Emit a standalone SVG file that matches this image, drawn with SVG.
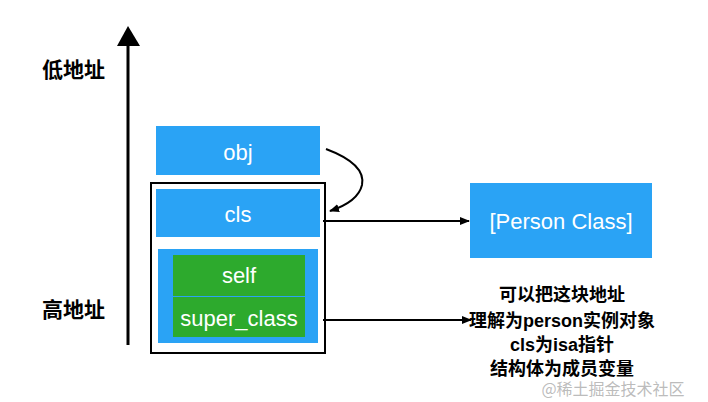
<svg xmlns="http://www.w3.org/2000/svg" width="708" height="402" viewBox="0 0 708 402">
<style>
.blue{fill:#2AA3F5}
.green{fill:#2DAA2D}
.lbl{font-family:"Liberation Sans","Noto Sans CJK SC",sans-serif;font-size:22px;fill:#fff;text-anchor:middle}
.cn{font-family:"Noto Sans CJK SC",sans-serif;font-weight:bold;fill:#000}
.note{font-family:"Liberation Sans","Noto Sans CJK SC",sans-serif;font-weight:bold;font-size:18px;fill:#000;text-anchor:middle}
.ln{stroke:#000;stroke-width:2;fill:none}
</style>
<defs>
<marker id="ah" markerWidth="10" markerHeight="10" refX="9" refY="5" orient="auto" markerUnits="userSpaceOnUse">
<path d="M0,1 L10,5 L0,9 Z" fill="#000"/>
</marker>
</defs>
<rect width="708" height="402" fill="#fff"/>
<g id="axis">
<line x1="128" y1="345" x2="128" y2="42" stroke="#000" stroke-width="3"/>
<path d="M117,46 L128,26 L140,46 Z" fill="#000"/>
<text class="cn" x="42" y="77" font-size="21">低地址</text>
<text class="cn" x="42" y="317" font-size="21">高地址</text>
</g>
<g id="obj">
<rect class="blue" x="156" y="126" width="164" height="49"/>
<text class="lbl" x="238" y="160">obj</text>
</g>
<g id="struct">
<rect x="151" y="183" width="174" height="170" fill="none" stroke="#000" stroke-width="2"/>
</g>
<g id="cls">
<rect class="blue" x="156" y="189" width="164" height="48"/>
<text class="lbl" x="238" y="222">cls</text>
</g>
<g id="members">
<rect class="blue" x="158" y="249" width="160" height="94"/>
</g>
<g id="self">
<rect class="green" x="173" y="255" width="132" height="41"/>
<text class="lbl" x="239" y="283">self</text>
</g>
<g id="super_class">
<rect class="green" x="173" y="297" width="132" height="40"/>
<text class="lbl" x="239" y="326">super_class</text>
</g>
<g id="person">
<rect class="blue" x="470" y="183" width="182" height="75"/>
<text class="lbl" x="561" y="229">[Person Class]</text>
</g>
<g id="connectors">
<path class="ln" d="M326,149 C350,158 365,170 362,185 C359,198 345,206 330,211" marker-end="url(#ah)"/>
<line class="ln" x1="323" y1="221" x2="469" y2="221" marker-end="url(#ah)"/>
<line class="ln" x1="323" y1="320" x2="471" y2="320" marker-end="url(#ah)"/>
</g>
<g id="note">
<text class="note" x="562" y="301">可以把这块地址</text>
<text class="note" x="562" y="327">理解为person实例对象</text>
<text class="note" x="562" y="351">cls为isa指针</text>
<text class="note" x="562" y="375">结构体为成员变量</text>
<text x="613" y="395" font-family="Noto Sans CJK SC,sans-serif" font-size="16" fill="#aaa" fill-opacity="0.8" text-anchor="middle">@稀土掘金技术社区</text>
</g>
</svg>
